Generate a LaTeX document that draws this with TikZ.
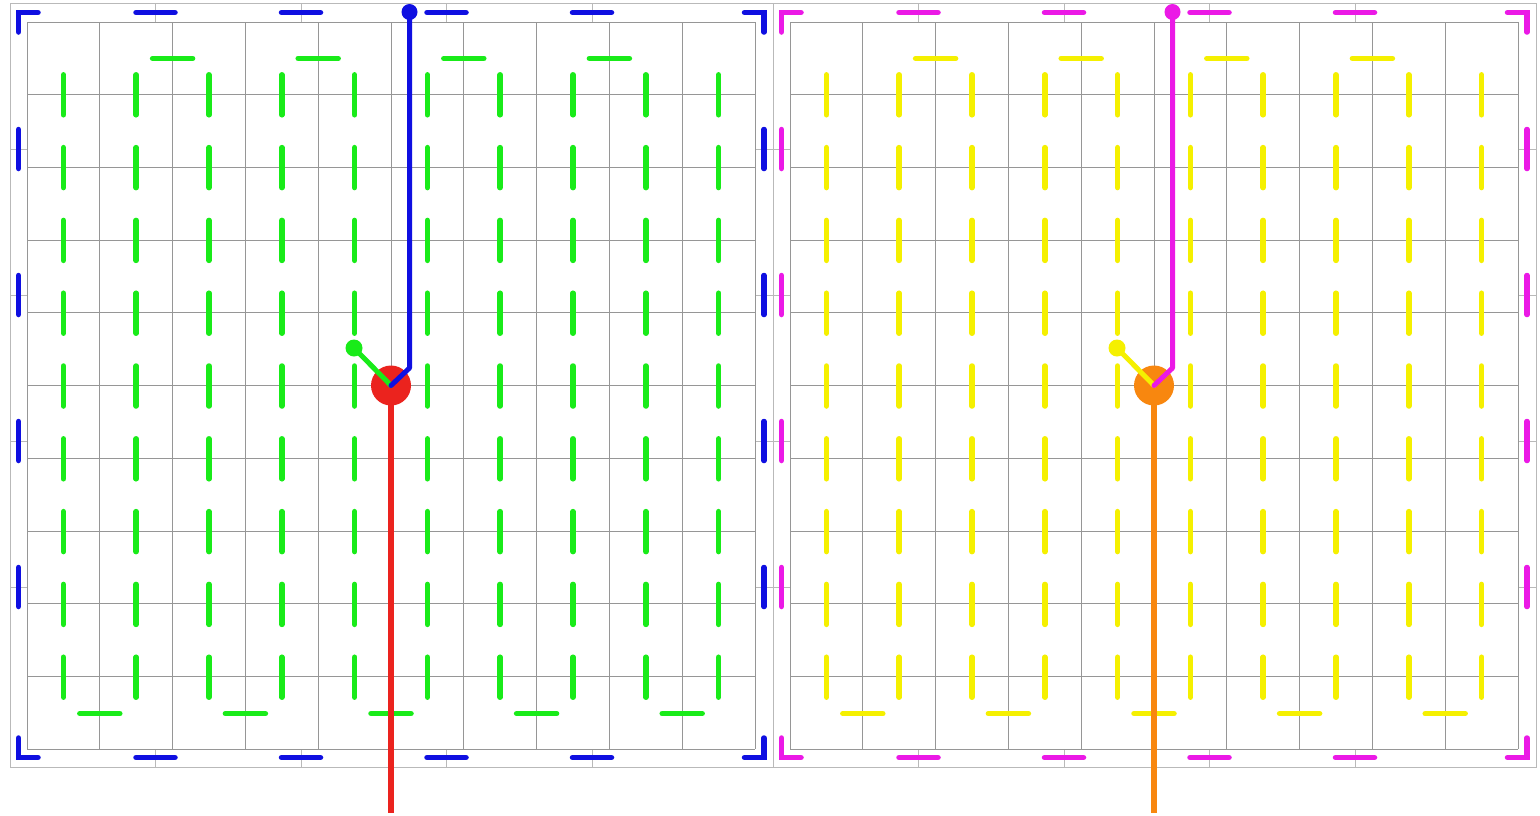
\documentclass[tikz,border=0pt]{standalone}
\usetikzlibrary{positioning}
\definecolor{GridGrey}{RGB}{150,150,150}
\definecolor{FrameGrey}{RGB}{185,185,185}
\definecolor{TrackGreen}{RGB}{25,235,25}
\definecolor{TrackYellow}{RGB}{245,240,0}
\definecolor{RingBlue}{RGB}{15,15,225}
\definecolor{RingMagenta}{RGB}{235,25,230}
\definecolor{HubRed}{RGB}{235,35,30}
\definecolor{HubOrange}{RGB}{248,135,15}
\tikzset{
  gridline/.style={draw=GridGrey,line width=0.8pt},
  frameline/.style={draw=FrameGrey,line width=0.9pt},
  trackdash/.style={line width=5.5pt,line cap=round,
    dash pattern=on 40pt off 32.8pt,dash phase=56.4pt},
  ringdash/.style={line width=5.5pt,line cap=round},
  arm/.style={line width=5pt,line cap=round,line join=round},
  hub/.style={circle,inner sep=0pt,minimum size=40pt},
  tipdot/.style={circle,inner sep=0pt,minimum size=17pt}
}

\begin{document}
\begin{tikzpicture}[x=1pt,y=-1pt]
  \useasboundingbox (0,0) rectangle (1540,815);
  \fill[white] (0,0) rectangle (1540,815);

  \foreach \dx/\trackcol/\ringcol/\hubcol/\p in
    {0/TrackGreen/RingBlue/HubRed/l,763/TrackYellow/RingMagenta/HubOrange/r}{
  \begin{scope}[xshift=\dx pt]
    % frame and ring ticks
    \draw[frameline] (10,3) rectangle (773,767);
    \foreach \t in {155.5,301,446.5,592}{
      \draw[frameline] (\t,3) -- (\t,22);
      \draw[frameline] (\t,749) -- (\t,767);
    }
    \foreach \t in {149,295,441,587}{
      \draw[frameline] (10,\t) -- (27,\t);
      \draw[frameline] (755,\t) -- (773,\t);
    }
    % cell grid
    \foreach \k in {0,...,10}{
      \draw[gridline] ({27+72.8*\k},22) -- ({27+72.8*\k},749);
      \draw[gridline] (27,{22+72.7*\k}) -- (755,{22+72.7*\k});
    }
    % ring dashes
    \foreach \t in {155.5,301,446.5,592}{
      \draw[ringdash,\ringcol] ({\t-19.5},12.5) -- ({\t+19.5},12.5);
      \draw[ringdash,\ringcol] ({\t-19.5},757.5) -- ({\t+19.5},757.5);
    }
    \foreach \t in {149,295,441,587}{
      \draw[ringdash,\ringcol] (18.5,{\t-19.5}) -- (18.5,{\t+19.5});
      \draw[ringdash,\ringcol] (764,{\t-19.5}) -- (764,{\t+19.5});
    }
    \draw[ringdash,\ringcol] (38,12.5) -- (18.5,12.5) -- (18.5,32);
    \draw[ringdash,\ringcol] (744.5,12.5) -- (764,12.5) -- (764,32);
    \draw[ringdash,\ringcol] (18.5,738) -- (18.5,757.5) -- (38,757.5);
    \draw[ringdash,\ringcol] (764,738) -- (764,757.5) -- (744.5,757.5);
    % serpentine track
    \foreach \c in {0,...,9}
      \draw[trackdash,\trackcol] ({63.4+72.8*\c},58.4) -- ({63.4+72.8*\c},713.6);
    \foreach \c in {1,3,5,7}
      \draw[trackdash,\trackcol] ({63.4+72.8*\c},58.4) -- ({136.2+72.8*\c},58.4);
    \foreach \c in {0,2,4,6,8}
      \draw[trackdash,\trackcol] ({63.4+72.8*\c},713.6) -- ({136.2+72.8*\c},713.6);
    % robot
    \node[hub,fill=\hubcol] (base-\p) at (391,385.5) {};
    \node[tipdot,fill=\trackcol] (grip-\p) at (354,348) {};
    \node[tipdot,fill=\ringcol,minimum size=16pt] (mast-\p) at (409.5,12) {};
    \coordinate (bend-\p) at (409.5,368);
    \coordinate (tail-\p) at (391,813);
    \draw[arm,line width=6.5pt,line cap=butt,\hubcol] (base-\p.center) -- (tail-\p);
    \draw[arm,\trackcol] (base-\p.center) -- (grip-\p.center);
    \draw[arm,\ringcol] (base-\p.center) -- (bend-\p) -- (mast-\p.center);
  \end{scope}
  }
\end{tikzpicture}
\end{document}
